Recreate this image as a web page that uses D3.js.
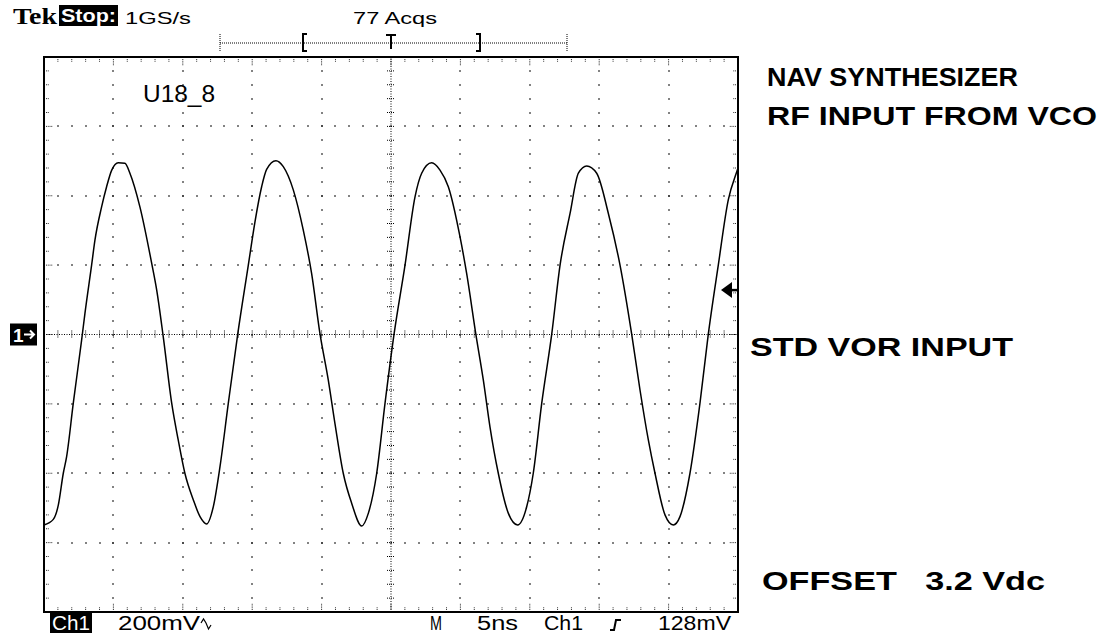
<!DOCTYPE html>
<html>
<head>
<meta charset="utf-8">
<title>U18_8 scope capture</title>
<script src="https://d3js.org/d3.v7.min.js"></script>
<style>
  body { margin: 0; background: #fff; }
  svg { display: block; }
  .scr { font-family: "Liberation Sans", Arial, sans-serif; fill: #000; }
  .inv { fill: #fff; }
  .note { font-family: "Liberation Sans", Arial, sans-serif; font-weight: bold; font-size: 26px; fill: #000; }
</style>
</head>
<body>
<svg id="scope" width="1100" height="638"></svg>
<script>
// waveform: time in ns (trigger at 0), amplitude in mV
const timeNs = [-25.0, -24.33, -23.97, -23.61, -23.37, -22.89, -22.29, -22.05, -21.57, -21.33,
  -20.85, -20.49, -20.12, -19.65, -19.17, -18.81, -18.09, -17.24, -16.88, -16.41,
  -15.80, -15.33, -14.85, -14.24, -13.76, -13.28, -12.80, -12.32, -11.72,
  -11.05, -10.28, -9.80, -9.32, -8.96, -8.29, -7.76, -7.04, -6.32, -5.72,
  -5.12, -4.52, -4.04, -3.44, -2.83, -2.11, -1.63, -1.03, -0.43, 0.22,
  1.01, 1.73, 2.21, 2.93, 3.53, 4.13, 4.97, 5.45, 6.12,
  6.65, 7.13, 7.73, 8.45, 9.12, 9.78, 10.25, 10.86, 11.58, 12.18,
  12.90, 13.50, 14.10, 14.82, 15.66, 16.50, 17.34, 17.94, 18.54, 19.02,
  19.74, 20.34, 20.82, 21.54, 22.26, 22.86, 23.58, 24.30, 24.91, 25.0];
const voltsMv = [-549, -533, -492, -400, -352, -198, -16, 61, 200, 272,
  368, 426, 474, 495, 494, 465, 368, 205, 128, -6,
  -198, -304, -400, -477, -525, -546, -496, -381, -198,
  -1, 200, 325, 426, 476, 501, 484, 417, 301, 176,
  3, -131, -256, -400, -487, -552, -515, -400, -198, 1,
  200, 397, 465, 495, 474, 426, 282, 176, -1,
  -131, -266, -400, -515, -549, -496, -400, -198, 1, 200,
  349, 465, 486, 465, 349, 200, 1, -160, -304, -400,
  -520, -549, -525, -400, -198, 1, 200, 388, 469, 480];

// graticule: 10 x 8 divisions, 5 ns/div, 200 mV/div, 5 minor steps per division
const timeDivs = [-25, -20, -15, -10, -5, 0, 5, 10, 15, 20, 25];
const voltDivs = [-800, -600, -400, -200, 0, 200, 400, 600, 800];
const minorSteps = 5;
const triggerMv = 128;

// readouts
const headerTexts = ["Tek", "Stop:", "1GS/s", "77 Acqs"];
const footerTexts = ["Ch1", "200mV", "M", "5ns", "Ch1", "128mV"];
const notes = ["NAV SYNTHESIZER", "RF INPUT FROM VCO", "STD VOR INPUT", "OFFSET   3.2 Vdc"];

const svg = d3.select("#scope");

const x = d3.scaleLinear().domain([timeDivs[0], timeDivs[timeDivs.length - 1]]).range([44, 738]);
const y = d3.scaleLinear().domain([voltDivs[0], voltDivs[voltDivs.length - 1]]).range([612, 57]);

const tDiv = timeDivs[1] - timeDivs[0];
const vDiv = voltDivs[1] - voltDivs[0];
const tStep = tDiv / minorSteps;
const vStep = vDiv / minorSteps;
const tMinor = d3.range(timeDivs[0], timeDivs[timeDivs.length - 1] + tStep / 2, tStep);
const vMinor = d3.range(voltDivs[0], voltDivs[voltDivs.length - 1] + vStep / 2, vStep);
const isMajor = (val, div) => Math.abs(val / div - Math.round(val / div)) < 1e-6;

const grid = svg.append("g");

// dotted graticule lines (one dot per minor step)
const dots = [];
timeDivs.slice(1, -1).filter(t => t !== 0).forEach(t => {
  vMinor.slice(1, -1).forEach(v => dots.push([x(t), y(v)]));
});
voltDivs.slice(1, -1).filter(v => v !== 0).forEach(v => {
  tMinor.slice(1, -1).forEach(t => dots.push([x(t), y(v)]));
});
grid.selectAll("rect.dot").data(dots).join("rect")
  .attr("class", "dot")
  .attr("x", d => Math.round(d[0]) - 0.75).attr("y", d => Math.round(d[1]) - 0.75)
  .attr("width", 1.5).attr("height", 1.5).attr("fill", "#222");

// centre lines with cross ticks
grid.append("line").attr("x1", x.range()[0]).attr("x2", x.range()[1]).attr("y1", y(0)).attr("y2", y(0))
  .attr("stroke", "#000").attr("stroke-width", 1).attr("stroke-dasharray", "1,1.5");
grid.append("line").attr("x1", x(0)).attr("x2", x(0)).attr("y1", y.range()[0]).attr("y2", y.range()[1])
  .attr("stroke", "#000").attr("stroke-width", 1).attr("stroke-dasharray", "1,1.5");
grid.selectAll("line.ct").data(tMinor.slice(1, -1)).join("line")
  .attr("class", "ct")
  .attr("x1", d => x(d)).attr("x2", d => x(d)).attr("y1", y(0) - 4).attr("y2", y(0) + 4)
  .attr("stroke", "#000").attr("stroke-width", 1).attr("stroke-dasharray", "1,1");
grid.selectAll("line.cv").data(vMinor.slice(1, -1)).join("line")
  .attr("class", "cv")
  .attr("y1", d => y(d)).attr("y2", d => y(d)).attr("x1", x(0) - 4).attr("x2", x(0) + 4)
  .attr("stroke", "#000").attr("stroke-width", 1).attr("stroke-dasharray", "1,1");

// border ticks
const [xl, xr] = x.range();
const [yb, yt] = y.range();
const tickLen = major => major ? 9 : 5;
const borderTicks = [];
tMinor.slice(1, -1).forEach(t => {
  const L = tickLen(isMajor(t, tDiv));
  borderTicks.push([x(t), yt, x(t), yt + L]);
  borderTicks.push([x(t), yb, x(t), yb - L]);
});
vMinor.slice(1, -1).forEach(v => {
  const L = tickLen(isMajor(v, vDiv));
  borderTicks.push([xl, y(v), xl + L, y(v)]);
  borderTicks.push([xr, y(v), xr - L, y(v)]);
});
grid.selectAll("line.bt").data(borderTicks).join("line")
  .attr("class", "bt")
  .attr("x1", d => d[0]).attr("y1", d => d[1]).attr("x2", d => d[2]).attr("y2", d => d[3])
  .attr("stroke", "#000").attr("stroke-width", 1).attr("stroke-dasharray", "1,1.2");

// frame
svg.append("rect").attr("x", xl).attr("y", yt).attr("width", xr - xl).attr("height", yb - yt)
  .attr("fill", "none").attr("stroke", "#000").attr("stroke-width", 2);

// waveform
const pts = timeNs.map((t, i) => ({ t, v: voltsMv[i] }));
svg.append("path").datum(pts)
  .attr("fill", "none").attr("stroke", "#000").attr("stroke-width", 1.5)
  .attr("d", d3.line().x(d => x(d.t)).y(d => y(d.v)).curve(d3.curveMonotoneX));

// ground marker "1->"
const gy = y(0);
svg.append("rect").attr("x", 10).attr("y", gy - 11).attr("width", 27).attr("height", 22).attr("fill", "#000");
svg.append("text").attr("class", "scr inv").attr("x", 13).attr("y", gy + 7)
  .attr("font-size", 19).attr("font-weight", "bold").text("1");
svg.append("path").attr("d", `M24,${gy} L34,${gy} M30,${gy - 4} L34,${gy} L30,${gy + 4}`)
  .attr("stroke", "#fff").attr("stroke-width", 2).attr("fill", "none");

// trigger level arrow on the right edge
const ty = y(triggerMv);
svg.append("path").attr("d", `M721,${ty} L732,${ty - 8} L732,${ty + 8} Z`).attr("fill", "#000");
svg.append("line").attr("x1", 730).attr("x2", xr).attr("y1", ty).attr("y2", ty)
  .attr("stroke", "#000").attr("stroke-width", 2.5);

// record window bar at top
const bar = svg.append("g");
bar.append("line").attr("x1", 220).attr("x2", 567).attr("y1", 43).attr("y2", 43)
  .attr("stroke", "#000").attr("stroke-width", 1).attr("stroke-dasharray", "1,1");
[220, 567].forEach(bx => bar.append("line").attr("x1", bx).attr("x2", bx).attr("y1", 34).attr("y2", 51)
  .attr("stroke", "#000").attr("stroke-width", 1).attr("stroke-dasharray", "1,1"));
bar.append("path").attr("d", "M307,34 L303,34 L303,51 L307,51").attr("fill", "none").attr("stroke", "#000").attr("stroke-width", 2);
bar.append("path").attr("d", "M476,34 L480,34 L480,51 L476,51").attr("fill", "none").attr("stroke", "#000").attr("stroke-width", 2);
bar.append("path").attr("d", `M${x(0) - 5},35 L${x(0) + 5},35 M${x(0)},35 L${x(0)},49`)
  .attr("fill", "none").attr("stroke", "#000").attr("stroke-width", 2);

// header readout
svg.append("text").attr("x", 13).attr("y", 24)
  .attr("font-family", "Liberation Serif, serif").attr("font-weight", "bold").attr("font-size", 24)
  .attr("textLength", 44).attr("lengthAdjust", "spacingAndGlyphs").text(headerTexts[0]);
svg.append("rect").attr("x", 59).attr("y", 5).attr("width", 59).attr("height", 21).attr("fill", "#000");
svg.append("text").attr("class", "scr inv").attr("x", 61).attr("y", 22)
  .attr("font-size", 18).attr("font-weight", "bold").attr("textLength", 55).attr("lengthAdjust", "spacingAndGlyphs")
  .text(headerTexts[1]);
svg.append("text").attr("class", "scr").attr("x", 125).attr("y", 24)
  .attr("font-size", 17).attr("textLength", 66).attr("lengthAdjust", "spacingAndGlyphs").text(headerTexts[2]);
svg.append("text").attr("class", "scr").attr("x", 353).attr("y", 24)
  .attr("font-size", 17).attr("textLength", 84).attr("lengthAdjust", "spacingAndGlyphs").text(headerTexts[3]);

// trace label
svg.append("text").attr("class", "scr").attr("x", 143).attr("y", 102)
  .attr("font-size", 23).attr("textLength", 72).attr("lengthAdjust", "spacingAndGlyphs").text("U18_8");

// footer readout
svg.append("rect").attr("x", 50).attr("y", 613).attr("width", 42).attr("height", 20).attr("fill", "#000");
svg.append("text").attr("class", "scr inv").attr("x", 52).attr("y", 630)
  .attr("font-size", 20).attr("textLength", 38).attr("lengthAdjust", "spacingAndGlyphs").text(footerTexts[0]);
const footPos = [null, [118, 82], [430, 12], [477, 41], [544, 39], [658, 73]];
footerTexts.forEach((s, i) => {
  if (i === 0) return;
  svg.append("text").attr("class", "scr").attr("x", footPos[i][0]).attr("y", 630)
    .attr("font-size", 20).attr("textLength", footPos[i][1]).attr("lengthAdjust", "spacingAndGlyphs").text(s);
});
// AC coupling mark and rising slope mark
svg.append("path").attr("d", "M201,623 L203.5,619 L206,623 L208.5,629 L211,625")
  .attr("fill", "none").attr("stroke", "#000").attr("stroke-width", 1.2);
svg.append("path").attr("d", "M610,630 L614,630 L616,620 L621,620")
  .attr("fill", "none").attr("stroke", "#000").attr("stroke-width", 2);

// side notes
const noteXY = [[767, 86], [767, 125], [750, 356], [762, 590]];
const noteLen = [251, 330, 263, 283];
svg.selectAll("text.note").data(notes).join("text")
  .attr("class", "note")
  .attr("x", (d, i) => noteXY[i][0]).attr("y", (d, i) => noteXY[i][1])
  .attr("textLength", (d, i) => noteLen[i]).attr("lengthAdjust", "spacingAndGlyphs")
  .attr("xml:space", "preserve").style("white-space", "pre")
  .text(d => d);
</script>
</body>
</html>
